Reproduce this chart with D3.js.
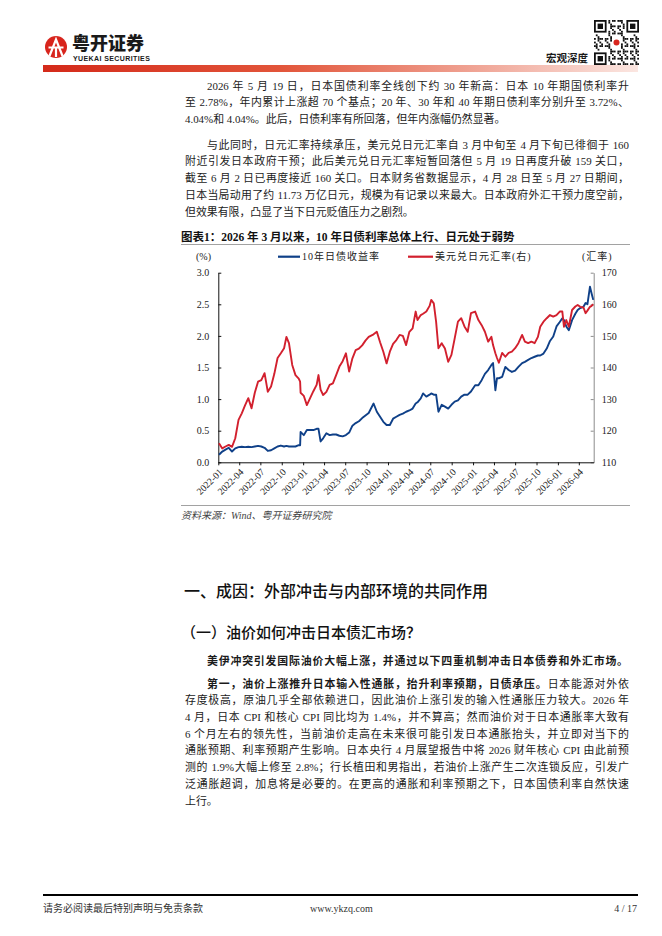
<!DOCTYPE html>
<html lang="zh-CN">
<head>
<meta charset="utf-8">
<title>粤开证券 宏观深度</title>
<script src="https://cdn.jsdelivr.net/npm/d3@7"></script>
<style>
  body { margin: 0; background: #fff; }
  #page { position: relative; width: 662px; height: 936px; overflow: hidden;
          font-family: "Liberation Serif", "Noto Sans CJK SC", serif; color: #1b1b1b; }
  #page svg { position: absolute; left: 0; top: 0; }
  .para { position: absolute; left: 185px; width: 444px; font-size: 10.9px; line-height: 16.7px; }
  .para div { white-space: nowrap; text-align: justify; text-align-last: justify; }
  .para div.in { padding-left: 22px; }
  .para div.last { text-align-last: left; }
  .para b { font-family: "Noto Sans CJK SC", sans-serif; font-weight: 700; }
  .h1 { position: absolute; left: 184px; top: 579px; font-family: "Noto Sans CJK SC", sans-serif;
        font-size: 16px; line-height: 22px; font-weight: 500; color: #111; }
  .h2 { position: absolute; left: 181px; top: 621px; font-family: "Noto Sans CJK SC", sans-serif;
        font-size: 15px; line-height: 22px; font-weight: 500; color: #111; }
</style>
</head>
<body>
<div id="page">
  <div class="para" style="top:77.7px">
    <div class="in">2026 年 5 月 19 日，日本国债利率全线创下约 30 年新高：日本 10 年期国债利率升</div>
    <div>至 2.78%，年内累计上涨超 70 个基点；20 年、30 年和 40 年期日债利率分别升至 3.72%、</div>
    <div class="last">4.04%和 4.04%。此后，日债利率有所回落，但年内涨幅仍然显著。</div>
  </div>
  <div class="para" style="top:136.7px">
    <div class="in">与此同时，日元汇率持续承压，美元兑日元汇率自 3 月中旬至 4 月下旬已徘徊于 160</div>
    <div>附近引发日本政府干预；此后美元兑日元汇率短暂回落但 5 月 19 日再度升破 159 关口，</div>
    <div>截至 6 月 2 日已再度接近 160 关口。日本财务省数据显示，4 月 28 日至 5 月 27 日期间，</div>
    <div>日本当局动用了约 11.73 万亿日元，规模为有记录以来最大。日本政府外汇干预力度空前，</div>
    <div class="last">但效果有限，凸显了当下日元贬值压力之剧烈。</div>
  </div>

  <div class="h1">一、成因：外部冲击与内部环境的共同作用</div>
  <div class="h2">（一）油价如何冲击日本债汇市场？</div>

  <div class="para" style="top:651.6px; width:443px">
    <div class="in"><b>美伊冲突引发国际油价大幅上涨，并通过以下四重机制冲击日本债券和外汇市场。</b></div>
  </div>
  <div class="para" style="top:674.6px">
    <div class="in"><b>第一，油价上涨推升日本输入性通胀，抬升利率预期，日债承压。</b>日本能源对外依</div>
    <div>存度极高，原油几乎全部依赖进口，因此油价上涨引发的输入性通胀压力较大。2026 年</div>
    <div>4 月，日本 CPI 和核心 CPI 同比均为 1.4%，并不算高；然而油价对于日本通胀率大致有</div>
    <div>6 个月左右的领先性，当前油价走高在未来很可能引发日本通胀抬头，并立即对当下的</div>
    <div>通胀预期、利率预期产生影响。日本央行 4 月展望报告中将 2026 财年核心 CPI 由此前预</div>
    <div>测的 1.9%大幅上修至 2.8%；行长植田和男指出，若油价上涨产生二次连锁反应，引发广</div>
    <div>泛通胀超调，加息将是必要的。在更高的通胀和利率预期之下，日本国债利率自然快速</div>
    <div class="last">上行。</div>
  </div>
</div>

<script>
// 图表1 数据：约半月一个观测点，读自原图
const dates = [
  '2022-01-04', '2022-01-18', '2022-02-01', '2022-02-15', '2022-03-01', '2022-03-15', '2022-03-29',
  '2022-04-12', '2022-04-26', '2022-05-10', '2022-05-24', '2022-06-07', '2022-06-21', '2022-07-05',
  '2022-07-19', '2022-08-02', '2022-08-16', '2022-08-30', '2022-09-13', '2022-09-27', '2022-10-11',
  '2022-10-21', '2022-11-01', '2022-11-15', '2022-11-29', '2022-12-13', '2022-12-19', '2022-12-21',
  '2023-01-04', '2023-01-17', '2023-01-31', '2023-02-14', '2023-02-28', '2023-03-08', '2023-03-17',
  '2023-03-28', '2023-04-11', '2023-04-25', '2023-05-09', '2023-05-23', '2023-06-06', '2023-06-20',
  '2023-07-04', '2023-07-18', '2023-08-01', '2023-08-15', '2023-08-29', '2023-09-12', '2023-09-26',
  '2023-10-10', '2023-10-31', '2023-11-14', '2023-11-28', '2023-12-12', '2023-12-26', '2024-01-09',
  '2024-01-23', '2024-02-06', '2024-02-20', '2024-03-05', '2024-03-19', '2024-04-02', '2024-04-16',
  '2024-04-29', '2024-05-07', '2024-05-21', '2024-05-31', '2024-06-14', '2024-06-28', '2024-07-05',
  '2024-07-16', '2024-07-26', '2024-08-05', '2024-08-19', '2024-09-02', '2024-09-16', '2024-09-30',
  '2024-10-14', '2024-10-28', '2024-11-11', '2024-11-25', '2024-12-09', '2024-12-23', '2025-01-10',
  '2025-01-24', '2025-02-07', '2025-02-21', '2025-03-07', '2025-03-21', '2025-03-28', '2025-04-07',
  '2025-04-14', '2025-04-22', '2025-05-06', '2025-05-20', '2025-06-03', '2025-06-17', '2025-07-01',
  '2025-07-15', '2025-07-31', '2025-08-12', '2025-08-26', '2025-09-09', '2025-09-23', '2025-10-07',
  '2025-10-17', '2025-10-31', '2025-11-14', '2025-11-28', '2025-12-12', '2025-12-26', '2026-01-09',
  '2026-01-20', '2026-01-27', '2026-02-06', '2026-02-17', '2026-03-03', '2026-03-17', '2026-03-27',
  '2026-04-07', '2026-04-21', '2026-04-30', '2026-05-08', '2026-05-19', '2026-05-26', '2026-06-02'
]

// 10年日债收益率（%，左轴）
const jgbYield = [
  0.12, 0.17, 0.20, 0.23, 0.17, 0.22, 0.24,
  0.245, 0.24, 0.245, 0.24, 0.25, 0.26, 0.25,
  0.23, 0.18, 0.19, 0.22, 0.25, 0.265, 0.25,
  0.26, 0.25, 0.25, 0.25, 0.27, 0.27, 0.48,
  0.43, 0.51, 0.51, 0.51, 0.53, 0.53, 0.33,
  0.38, 0.46, 0.43, 0.44, 0.44, 0.42, 0.41,
  0.43, 0.47, 0.58, 0.62, 0.65, 0.70, 0.74,
  0.78, 0.93, 0.80, 0.72, 0.64, 0.59, 0.59,
  0.69, 0.72, 0.75, 0.77, 0.80, 0.82, 0.85,
  0.93, 0.95, 1.01, 1.09, 1.04, 1.07, 1.09,
  1.07, 1.07, 0.80, 0.91, 0.88, 0.85, 0.91,
  0.96, 0.98, 1.04, 1.07, 1.07, 1.12, 1.22,
  1.22, 1.30, 1.40, 1.46, 1.54, 1.57, 1.14,
  1.33, 1.33, 1.35, 1.51, 1.46, 1.43, 1.45,
  1.51, 1.57, 1.59, 1.62, 1.65, 1.67, 1.69,
  1.69, 1.72, 1.80, 1.92, 1.99, 2.15, 2.22,
  2.28, 2.25, 2.15, 2.09, 2.25, 2.35, 2.41,
  2.44, 2.46, 2.52, 2.50, 2.78, 2.67, 2.57
]

// 美元兑日元汇率（右轴）
const usdJpy = [
  116.0, 114.4, 115.0, 115.5, 114.9, 117.6, 123.4,
  125.5, 128.0, 130.3, 127.1, 132.0, 135.5, 136.0,
  138.2, 132.3, 134.0, 138.0, 143.0, 144.5, 146.1,
  149.7, 147.7, 140.8, 137.6, 136.5, 135.5, 132.0,
  131.0, 128.1, 130.3, 132.5, 134.5, 137.6, 133.0,
  131.3, 132.3, 134.5, 135.0, 137.6, 140.3, 142.0,
  144.5, 138.7, 142.9, 145.5, 146.0, 147.0, 148.5,
  149.7, 150.5, 151.3, 148.0, 145.0, 141.3, 145.0,
  147.5, 148.7, 150.3, 150.0, 147.1, 151.3, 152.4,
  157.7, 155.0, 156.6, 157.0, 157.7, 159.5, 161.4,
  160.3, 154.5, 146.1, 147.7, 146.0, 141.8, 144.0,
  149.2, 154.5, 155.6, 153.0, 151.3, 157.2, 157.7,
  155.0, 153.4, 151.3, 148.2, 149.7, 147.1, 144.5,
  143.0, 141.5, 144.6, 143.4, 144.6, 145.0, 146.1,
  147.7, 150.3, 148.2, 147.7, 148.2, 147.7, 149.7,
  152.9, 154.5, 155.6, 156.6, 156.1, 156.6, 157.7,
  157.7, 152.9, 155.0, 152.9, 158.2, 159.3, 159.8,
  159.2, 159.0, 157.2, 158.0, 159.2, 159.5, 160.0
]

const leftTicks = [0, 0.5, 1.0, 1.5, 2.0, 2.5, 3.0]
const rightTicks = [110, 120, 130, 140, 150, 160, 170]
const quarterLabels = [
  '2022-01', '2022-04', '2022-07', '2022-10', '2023-01', '2023-04', '2023-07', '2023-10', '2024-01',
  '2024-04', '2024-07', '2024-10', '2025-01', '2025-04', '2025-07', '2025-10', '2026-01', '2026-04'
]
const seriesNames = ['10年日债收益率', '美元兑日元汇率(右)']
const seriesColors = ['#0f4088', '#d2202e']

const serif = '"Liberation Serif", "Noto Sans CJK SC", serif'
const sans = '"Noto Sans CJK SC", sans-serif'

const parseDay = d3.timeParse('%Y-%m-%d')
const parseMonth = d3.timeParse('%Y-%m')
const rows = dates.map((d, i) => ({ date: parseDay(d), jgb: jgbYield[i], fx: usdJpy[i] }))

const svg = d3.select('#page').insert('svg', ':first-child')
    .attr('width', 662)
    .attr('height', 936)

// ---- 页眉 ----
const grad = svg.append('defs').append('linearGradient').attr('id', 'bar')
grad.append('stop').attr('offset', '0%').attr('stop-color', '#d42a1a')
grad.append('stop').attr('offset', '40%').attr('stop-color', '#e2553a')
grad.append('stop').attr('offset', '100%').attr('stop-color', '#fbe6e1')
svg.append('rect').attr('x', 43).attr('y', 65).attr('width', 595).attr('height', 7).attr('fill', 'url(#bar)')

const logo = svg.append('g')
logo.append('circle').attr('cx', 56).attr('cy', 47).attr('r', 11).attr('fill', '#d8251d')
logo.append('path').attr('d', 'M49.5,56 L56,39.5 L62.5,56 M48.5,47.5 L63.5,47.5 M56,47.5 L56,57')
    .attr('stroke', '#fff').attr('stroke-width', 2.2).attr('fill', 'none')
svg.append('text').attr('x', 72).attr('y', 43.5).attr('dy', '0.35em')
    .attr('font-family', sans).attr('font-weight', 900).attr('font-size', 18).attr('fill', '#1a1a1a')
    .text('粤开证券')
svg.append('text').attr('x', 73).attr('y', 59).attr('dy', '0.35em')
    .attr('font-family', '"Liberation Sans", sans-serif').attr('font-weight', 700).attr('font-size', 7)
    .attr('letter-spacing', 0.4).attr('fill', '#1a1a1a')
    .text('YUEKAI SECURITIES')
svg.append('text').attr('x', 588).attr('y', 58).attr('dy', '0.35em').attr('text-anchor', 'end')
    .attr('font-family', sans).attr('font-weight', 700).attr('font-size', 10.5).attr('fill', '#1a1a1a')
    .text('宏观深度')

// 二维码（装饰）
const qr = svg.append('g').attr('transform', 'translate(594,20)')
const cell = 1.8
const finder = [[0, 0], [18, 0], [0, 18]]
const inFinder = (i, j) => finder.some(([a, b]) => i >= a - 1 && i <= a + 7 && j >= b - 1 && j <= b + 7)
for (let i = 0; i < 25; i++) {
    for (let j = 0; j < 25; j++) {
        if (inFinder(i, j)) continue
        if ((i * i + j * 3 + i * j * 5) % 7 < 3) {
            qr.append('rect').attr('x', i * cell).attr('y', j * cell).attr('width', cell).attr('height', cell).attr('fill', '#111')
        }
    }
}
finder.forEach(([a, b]) => {
    qr.append('rect').attr('x', a * cell + cell / 2).attr('y', b * cell + cell / 2)
        .attr('width', 6 * cell).attr('height', 6 * cell).attr('fill', 'none').attr('stroke', '#111').attr('stroke-width', cell)
    qr.append('rect').attr('x', (a + 2) * cell).attr('y', (b + 2) * cell)
        .attr('width', 3 * cell).attr('height', 3 * cell).attr('fill', '#111')
})
qr.append('rect').attr('x', 10 * cell).attr('y', 10 * cell).attr('width', 5 * cell).attr('height', 5 * cell).attr('fill', '#fff')
qr.append('circle').attr('cx', 12.5 * cell).attr('cy', 12.5 * cell).attr('r', 3).attr('fill', '#d8251d')

// ---- 图表1 ----
const x = d3.scaleTime()
    .domain([parseDay('2022-01-01'), parseDay('2026-06-04')])
    .range([218.3, 593.7])
const yLeft = d3.scaleLinear().domain([0, 3]).range([462.3, 272.7])
const yRight = d3.scaleLinear().domain([110, 170]).range([462.3, 272.7])

svg.append('text').attr('x', 181).attr('y', 237).attr('dy', '0.35em')
    .attr('font-family', serif).attr('font-weight', 700).attr('font-size', 11.5).attr('fill', '#111')
    .text('图表1：2026 年 3 月以来，10 年日债利率总体上行、日元处于弱势')
svg.append('line').attr('x1', 181).attr('x2', 630).attr('y1', 244.5).attr('y2', 244.5)
    .attr('stroke', '#8a8a8a').attr('stroke-width', 0.8)

// 图例
const legendY = 256.7
const legend = [
    { x1: 278, x2: 300, tx: 302 },
    { x1: 408, x2: 433, tx: 435 }
]
legend.forEach((l, i) => {
    svg.append('line').attr('x1', l.x1).attr('x2', l.x2).attr('y1', legendY).attr('y2', legendY)
        .attr('stroke', seriesColors[i]).attr('stroke-width', 2.2)
    svg.append('text').attr('x', l.tx).attr('y', legendY).attr('dy', '0.35em')
        .attr('font-family', serif).attr('font-size', 10).attr('letter-spacing', 1).attr('fill', '#222')
        .text(seriesNames[i])
})
svg.append('text').attr('x', 196).attr('y', legendY).attr('dy', '0.35em')
    .attr('font-family', serif).attr('font-size', 10).attr('fill', '#222').text('(%)')
svg.append('text').attr('x', 582).attr('y', legendY).attr('dy', '0.35em')
    .attr('font-family', serif).attr('font-size', 10).attr('letter-spacing', 1).attr('fill', '#222').text('(汇率)')

// 坐标轴
const gLeft = svg.append('g')
    .attr('transform', `translate(${x.range()[0]},0)`)
    .call(d3.axisLeft(yLeft).tickValues(leftTicks).tickFormat(d3.format('.1f'))
        .tickSizeInner(-3).tickSizeOuter(0).tickPadding(9))
gLeft.attr('font-family', serif).attr('font-size', 10)
gLeft.selectAll('text').attr('fill', '#222')
gLeft.selectAll('path, line').attr('stroke', '#111')

const gRight = svg.append('g')
    .attr('transform', `translate(${x.range()[1]},0)`)
    .call(d3.axisRight(yRight).tickValues(rightTicks)
        .tickSizeInner(-3).tickSizeOuter(0).tickPadding(8))
gRight.attr('font-family', serif).attr('font-size', 10)
gRight.selectAll('text').attr('fill', '#222')
gRight.selectAll('path, line').attr('stroke', '#8c8c8c')

const gBottom = svg.append('g')
    .attr('transform', `translate(0,${yLeft(0)})`)
    .call(d3.axisBottom(x).tickValues(quarterLabels.map(parseMonth))
        .tickFormat(d3.timeFormat('%Y-%m')).tickSize(3).tickSizeOuter(0))
gBottom.attr('font-family', serif).attr('font-size', 9.6)
gBottom.selectAll('path, line').attr('stroke', '#111')
gBottom.selectAll('text')
    .attr('fill', '#222')
    .attr('text-anchor', 'end')
    .attr('x', 0).attr('y', 0).attr('dy', '0.35em')
    .attr('transform', 'translate(2,8) rotate(-45)')

// 折线
const lineJgb = d3.line().x(d => x(d.date)).y(d => yLeft(d.jgb))
const lineFx = d3.line().x(d => x(d.date)).y(d => yRight(d.fx))
svg.append('path').datum(rows).attr('d', lineJgb)
    .attr('fill', 'none').attr('stroke', seriesColors[0]).attr('stroke-width', 1.9).attr('stroke-linejoin', 'round')
svg.append('path').datum(rows).attr('d', lineFx)
    .attr('fill', 'none').attr('stroke', seriesColors[1]).attr('stroke-width', 1.9).attr('stroke-linejoin', 'round')

// 资料来源
svg.append('line').attr('x1', 181).attr('x2', 630).attr('y1', 505.5).attr('y2', 505.5)
    .attr('stroke', '#8a8a8a').attr('stroke-width', 0.8)
svg.append('text').attr('x', 181).attr('y', 515).attr('dy', '0.35em')
    .attr('font-family', serif).attr('font-style', 'italic').attr('font-size', 10).attr('fill', '#444')
    .text('资料来源：Wind、粤开证券研究院')

// ---- 页脚 ----
svg.append('line').attr('x1', 43).attr('x2', 638).attr('y1', 895).attr('y2', 895)
    .attr('stroke', '#000').attr('stroke-width', 1.8)
const footer = [
    { x: 43, anchor: 'start', text: '请务必阅读最后特别声明与免责条款' },
    { x: 310, anchor: 'start', text: 'www.ykzq.com' },
    { x: 637, anchor: 'end', text: '4 / 17' }
]
footer.forEach(f => {
    svg.append('text').attr('x', f.x).attr('y', 908).attr('dy', '0.35em').attr('text-anchor', f.anchor)
        .attr('font-family', serif).attr('font-size', 10).attr('fill', '#333').text(f.text)
})
</script>
</body>
</html>
